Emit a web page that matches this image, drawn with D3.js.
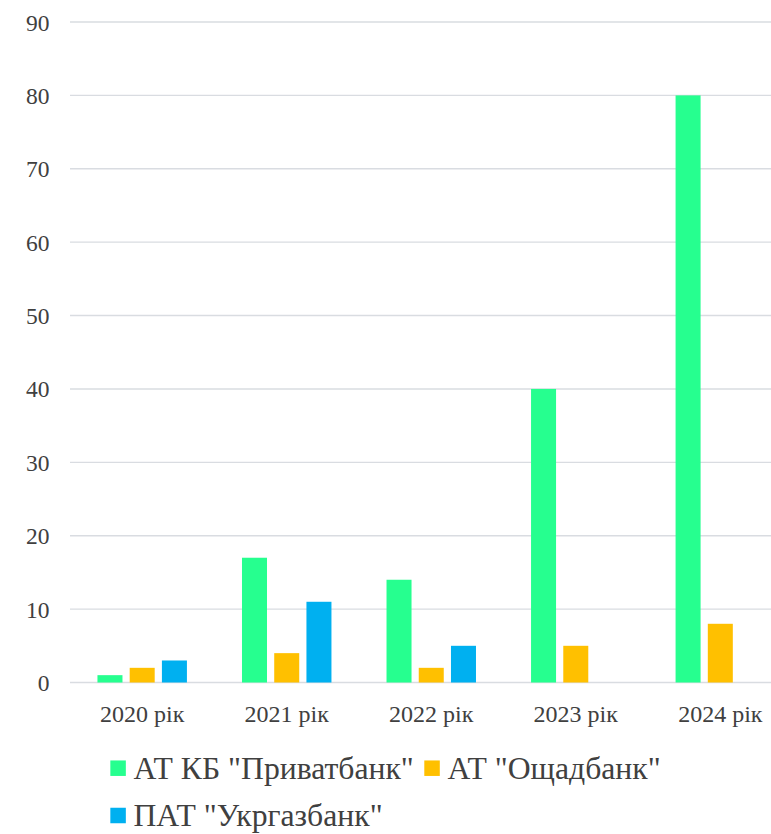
<!DOCTYPE html>
<html>
<head>
<meta charset="utf-8">
<script src="https://cdn.jsdelivr.net/npm/d3@7"></script>
<style>
  html, body { margin: 0; padding: 0; background: #fff; }
  svg { display: block; }
</style>
</head>
<body>
<script>
const categories = ["2020 рік", "2021 рік", "2022 рік", "2023 рік", "2024 рік"];
const seriesNames = ['АТ КБ "Приватбанк"', 'АТ "Ощадбанк"', 'ПАТ "Укргазбанк"'];
const privatbank = [1, 17, 14, 40, 80];
const oschadbank = [2, 4, 2, 5, 8];
const ukrgasbank = [3, 11, 5, null, null];
const yTicks = [0, 10, 20, 30, 40, 50, 60, 70, 80, 90];
const colors = ["#26FF8F", "#FFC000", "#00B0F0"];

const seriesValues = [privatbank, oschadbank, ukrgasbank];
const W = 771, H = 834;
const FONT = '"Liberation Serif", monospace';
const textColor = "#404040";

const svg = d3.select("body").append("svg")
  .attr("width", W).attr("height", H);

const x0 = d3.scaleBand().domain(categories).range([70, 792.5])
  .paddingInner(0.381).paddingOuter(0.19);
const x1 = d3.scaleBand().domain(d3.range(seriesNames.length))
  .range([0, x0.bandwidth()]).paddingInner(0.224).paddingOuter(0);
const y = d3.scaleLinear().domain([0, 90]).range([682.5, 22]);

// gridlines
svg.append("g").selectAll("line").data(yTicks).join("line")
  .attr("x1", 70).attr("x2", W)
  .attr("y1", d => y(d)).attr("y2", d => y(d))
  .attr("stroke", "#d9dce1").attr("stroke-width", 1.4);

// y labels
const yAxis = d3.axisLeft(y).tickValues(yTicks).tickSize(0).tickPadding(0);
const gy = svg.append("g").attr("transform", "translate(49.5,0)").call(yAxis);
gy.select(".domain").remove();
gy.selectAll("text")
  .style("font-family", FONT).style("font-size", "23.5px").attr("fill", textColor)
  .attr("dy", "0.34em");

// bars
const groups = svg.append("g").selectAll("g").data(categories).join("g")
  .attr("transform", d => `translate(${x0(d)},0)`);
groups.selectAll("rect")
  .data((c, i) => seriesValues.map((s, k) => ({ k, v: s[i] })).filter(d => d.v != null))
  .join("rect")
  .attr("x", d => x1(d.k))
  .attr("width", x1.bandwidth())
  .attr("y", d => y(d.v))
  .attr("height", d => y(0) - y(d.v))
  .attr("fill", d => colors[d.k]);

// x labels
const xAxis = d3.axisBottom(x0).tickSize(0).tickPadding(0);
const gx = svg.append("g").attr("transform", "translate(0,721.5)").call(xAxis);
gx.select(".domain").remove();
gx.selectAll("text")
  .style("font-family", FONT).style("font-size", "24px").attr("fill", textColor)
  .attr("y", 0).attr("dy", "0");

// legend
const legendFont = 31.7, sq = 15.5, sqGap = 7.6, itemGap = 10.5;
const leg = svg.append("g");
const items = seriesNames.map((name, k) => {
  const g = leg.append("g");
  g.append("rect").attr("width", sq).attr("height", sq).attr("y", -sq / 2)
    .attr("fill", colors[k]);
  const t = g.append("text").attr("x", sq + sqGap).attr("y", 0).attr("dy", "0.345em")
    .style("font-family", FONT).style("font-size", legendFont + "px").attr("fill", textColor)
    .text(name);
  const w = sq + sqGap + t.node().getComputedTextLength();
  return { g, w };
});
const rows = [[0, 1], [2]];
const rowY = [768.2, 815.5];
const row1W = items[0].w + itemGap + items[1].w;
const startX = (W - row1W) / 2;
rows.forEach((r, ri) => {
  let cx = startX;
  r.forEach(k => {
    items[k].g.attr("transform", `translate(${cx},${rowY[ri]})`);
    cx += items[k].w + itemGap;
  });
});
</script>
</body>
</html>
